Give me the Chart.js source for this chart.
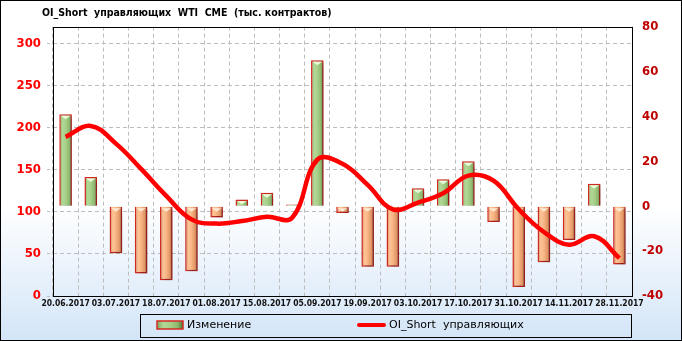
<!DOCTYPE html>
<html>
<head>
<meta charset="utf-8">
<script src="https://cdn.jsdelivr.net/npm/chart.js@4.4.1/dist/chart.umd.min.js"></script>
<style>
  html, body { margin: 0; padding: 0; background: #fff; }
  canvas { display: block; }
</style>
</head>
<body>
<canvas id="chart" width="682" height="341"></canvas>
<script>
// weekly report dates
const dates = ['20.06.2017', '27.06.2017', '03.07.2017', '11.07.2017', '18.07.2017', '25.07.2017',
  '01.08.2017', '08.08.2017', '15.08.2017', '29.08.2017', '05.09.2017', '12.09.2017',
  '19.09.2017', '26.09.2017', '03.10.2017', '10.10.2017', '17.10.2017', '24.10.2017',
  '31.10.2017', '07.11.2017', '14.11.2017', '21.11.2017', '28.11.2017'];
// weekly change (right axis)
const change = [41, 13, -21, -30, -33, -29, -5, 3, 6, 0.8, 65, -3,
  -27, -27, 8, 12, 20, -7, -36, -25, -15, 10, -26];
// OI short of managed money (left axis)
const oiShort = [189, 202, 181, 151, 119, 91, 86, 89, 94, 93, 162, 157,
  132, 103, 111, 122, 143, 137, 103, 76, 61, 71, 45];
const leftTicks = [0, 50, 100, 150, 200, 250, 300];
const rightTicks = [-40, -20, 0, 20, 40, 60, 80];

const titleText = 'OI_Short  управляющих  WTI  CME  (тыс. контрактов)';
const changeLabel = 'Изменение';
const oiLabel = 'OI_Short  управляющих';

const NARROW = '"DejaVu Sans Condensed", "DejaVu Sans", sans-serif';
const PLAIN = '"DejaVu Sans", sans-serif';

function barGradient(c, x0, x1, up) {
  let g = c.createLinearGradient(x0, 0, x1, 0);
  if (up) {
    g.addColorStop(0, '#7fa862');
    g.addColorStop(0.25, '#b2d896');
    g.addColorStop(0.5, '#a8d08a');
    g.addColorStop(0.8, '#8cb86c');
    g.addColorStop(1, '#4e6c36');
  } else {
    g.addColorStop(0, '#c87a50');
    g.addColorStop(0.25, '#ffc496');
    g.addColorStop(0.5, '#f8b585');
    g.addColorStop(0.8, '#e09462');
    g.addColorStop(1, '#7e3b1e');
  }
  return g;
}

const decor = {
  id: 'decor',
  afterLayout(chart) {
    chart.titleBlock.left = 42;
  },
  beforeDraw(chart) {
    const c = chart.ctx;
    const h = chart.height, w = chart.width;
    let g = c.createLinearGradient(0, 0, 0, h);
    g.addColorStop(0, '#ffffff');
    g.addColorStop(0.6, '#ffffff');
    g.addColorStop(1, '#d3e5f8');
    c.save();
    c.fillStyle = g;
    c.fillRect(0, 0, w, h);
    c.restore();
  },
  beforeDatasetDraw(chart, args) {
    if (args.meta.type !== 'bar') return;
    const c = chart.ctx;
    // shade each bar across its own width
    args.meta.data.forEach((bar, i) => {
      const p = bar.getProps(['x', 'width']);
      bar.options = Object.assign({}, bar.options, {
        backgroundColor: barGradient(c, p.x - p.width / 2, p.x + p.width / 2, change[i] >= 0)
      });
    });
    c.save();
    c.shadowColor = 'rgba(0,0,0,0.35)';
    c.shadowBlur = 4;
    c.shadowOffsetX = 3;
    c.shadowOffsetY = 2;
  },
  afterDatasetDraw(chart, args) {
    if (args.meta.type !== 'bar') return;
    const c = chart.ctx;
    c.restore();
    // light cap at the top end of each bar
    c.save();
    args.meta.data.forEach((bar, i) => {
      const p = bar.getProps(['x', 'y', 'base', 'width']);
      const top = Math.min(p.y, p.base);
      const len = Math.abs(p.base - p.y);
      if (len < 6) return;
      const hw = p.width / 2 - 1.5;
      c.fillStyle = change[i] >= 0 ? 'rgba(240,255,225,0.9)' : 'rgba(255,240,220,0.9)';
      c.beginPath();
      c.moveTo(p.x - hw, top + 1.5);
      c.lineTo(p.x + hw, top + 1.5);
      c.lineTo(p.x, top + 5);
      c.closePath();
      c.fill();
    });
    c.restore();
  },
  afterDraw(chart) {
    const c = chart.ctx;
    const a = chart.chartArea;
    c.save();
    c.strokeStyle = '#000';
    c.lineWidth = 1;
    c.strokeRect(Math.round(a.left) + 0.5, Math.round(a.top) + 0.5,
      Math.round(a.right - a.left), Math.round(a.bottom - a.top));
    c.strokeRect(0.5, 0.5, chart.width - 1, chart.height - 1);

    // legend
    c.strokeRect(140.5, 314.5, 491, 23);
    c.fillStyle = barGradient(c, 157, 183, true);
    c.fillRect(157, 321, 26, 8);
    c.strokeStyle = '#d42a20';
    c.lineWidth = 1.5;
    c.strokeRect(157, 321, 26, 8);
    c.strokeStyle = '#ff0000';
    c.lineWidth = 4;
    c.lineCap = 'round';
    c.beginPath();
    c.moveTo(359, 325);
    c.lineTo(384, 325);
    c.stroke();
    c.fillStyle = '#000';
    c.font = '11px ' + PLAIN;
    c.textBaseline = 'middle';
    c.fillText(chart.data.datasets[0].label, 187, 325);
    c.fillText(chart.data.datasets[1].label, 389, 325);
    c.restore();
  }
};

new Chart(document.getElementById('chart'), {
  type: 'bar',
  data: {
    labels: dates,
    datasets: [
      {
        type: 'bar',
        label: changeLabel,
        data: change,
        yAxisID: 'y1',
        order: 1,
        barPercentage: 0.5,
        categoryPercentage: 1,
        borderColor: '#d42a20',
        borderWidth: 1.5,
        backgroundColor: (ctx) => (ctx.raw >= 0 ? '#a8d08a' : '#f8b585')
      },
      {
        type: 'line',
        label: oiLabel,
        data: oiShort,
        yAxisID: 'y',
        order: 0,
        borderColor: '#ff0000',
        borderWidth: 4.5,
        tension: 0.4,
        pointRadius: 0,
        fill: false
      }
    ]
  },
  options: {
    responsive: false,
    animation: false,
    layout: { padding: { bottom: 28 } },
    plugins: {
      legend: { display: false },
      tooltip: { enabled: false },
      title: {
        display: true,
        text: titleText,
        align: 'start',
        color: '#000',
        font: { family: NARROW, size: 10.5, weight: 'bold' },
        padding: { top: 7, bottom: 7 }
      }
    },
    scales: {
      x: {
        grid: { color: '#bdbdbd', drawTicks: false, offset: true },
        border: { display: false, dash: [4, 3] },
        ticks: {
          autoSkip: false,
          maxRotation: 0,
          padding: 3,
          color: '#111',
          font: { family: NARROW, size: 8.5, weight: 'bold' },
          callback: (v, i) => (i % 2 === 0 ? dates[i] : '')
        },
        afterFit: (s) => { s.height = 17; }
      },
      y: {
        position: 'left',
        min: 0,
        max: 320,
        afterBuildTicks: (s) => { s.ticks = leftTicks.map(v => ({ value: v })); },
        grid: { color: '#bdbdbd', tickLength: 6, tickBorderDash: [3, 2] },
        border: { display: false, dash: [4, 3] },
        ticks: {
          color: '#ff0000',
          padding: 6,
          font: { family: NARROW, size: 13, weight: 'bold' }
        },
        afterFit: (s) => { s.width = 53; }
      },
      y1: {
        position: 'right',
        min: -40,
        max: 80,
        afterBuildTicks: (s) => { s.ticks = rightTicks.map(v => ({ value: v })); },
        grid: { drawOnChartArea: false, drawTicks: false },
        border: { display: false },
        ticks: {
          color: '#c00000',
          padding: 10,
          font: { family: NARROW, size: 13, weight: 'bold' }
        },
        afterFit: (s) => { s.width = 50; }
      }
    }
  },
  plugins: [decor]
});
</script>
</body>
</html>
